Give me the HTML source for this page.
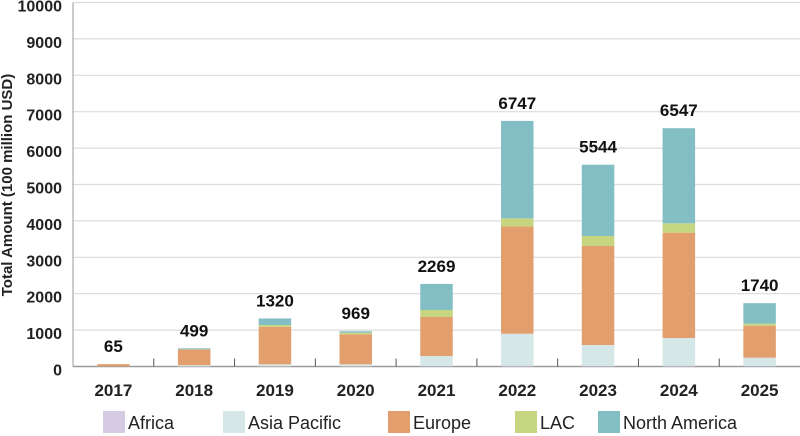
<!DOCTYPE html>
<html><head><meta charset="utf-8"><style>
body{margin:0;background:#fff;}
svg{display:block;font-family:"Liberation Sans",sans-serif;}
</style></head><body>
<svg id="chart" width="800" height="436" viewBox="0 0 800 436"></svg>
<script>
const categories=["2017","2018","2019","2020","2021","2022","2023","2024","2025"];
const seriesNames=["Africa","Asia Pacific","Europe","LAC","North America"];
const africa=[0,2,5,5,8,20,15,20,7];
const asiaPacific=[5,35,55,55,280,880,575,763,235];
const europe=[60,432,1030,825,1072,2950,2720,2893,878];
const lac=[0,3,50,45,192,220,275,258,56];
const northAmerica=[0,27,180,39,717,2677,1959,2613,564];
const totals=[65,499,1320,969,2269,6747,5544,6547,1740];
const yTicks=[0,1000,2000,3000,4000,5000,6000,7000,8000,9000,10000];
const colors=["#d5cce3","#d5e7e7","#e29f6d","#c6d57f","#84bec5"];
const series=[africa,asiaPacific,europe,lac,northAmerica];
const NS="http://www.w3.org/2000/svg";
const svg=document.getElementById("chart");
const x0=73,x1=800,y0=366.5,yTop=2.5,yMax=10000;
const band=(x1-x0)/categories.length,bw=32.5;
const y=v=>y0-(v/yMax)*(y0-yTop);
const xc=i=>x0+band*(i+0.5);
function mk(t,a,p){const e=document.createElementNS(NS,t);for(const k in a)e.setAttribute(k,a[k]);(p||svg).appendChild(e);return e;}
yTicks.forEach(v=>{
  const g=mk("line",{x1:x0,x2:x1,y1:y(v),y2:y(v),stroke:v===0?"#999":"#dcdcdc","stroke-width":v===0?1.5:1.2});
  
  
  const t=mk("text",{x:62,y:y(v)+9,"text-anchor":"end","font-size":16,"font-weight":"bold",fill:"#222"});
  t.textContent=v;
  
  
});
const ax=mk("line",{x1:x0,x2:x0,y1:yTop,y2:y0,stroke:"#999","stroke-width":1});


const yt=mk("text",{x:12,y:185,"text-anchor":"middle","font-size":15,"font-weight":"bold",fill:"#222",transform:"rotate(-90 12 185)"});
yt.textContent="Total Amount (100 million USD)";


categories.forEach((c,i)=>{
  if(i>0){const tk=mk("line",{x1:x0+band*i,x2:x0+band*i,y1:y0,y2:y0-8,stroke:"#555","stroke-width":1});
  
  }
  let cum=0;
  series.forEach((s,k)=>{
    const v=s[i];if(v<=0)return;
    const r=mk("rect",{x:xc(i)-bw/2,y:y(cum+v),width:bw,height:y(cum)-y(cum+v),fill:colors[k]});
    
    
    cum+=v;
  });
  const lt=mk("text",{x:xc(i),y:y(totals[i])-12,"text-anchor":"middle","font-size":17,"font-weight":"bold",fill:"#111"});
  lt.textContent=totals[i];
  
  
  const xl=mk("text",{x:xc(i),y:396,"text-anchor":"middle","font-size":17,"font-weight":"bold",fill:"#222"});
  xl.textContent=c;
  
  
});
const legX=[103,223,388,515,598];
seriesNames.forEach((n,k)=>{
  const g=mk("g",{});
  
  
  mk("rect",{x:legX[k],y:411,width:22,height:22,fill:colors[k]},g);
  const t=mk("text",{x:legX[k]+25,y:429,"font-size":18,fill:"#222"},g);
  t.textContent=n;
});
</script>
</body></html>
